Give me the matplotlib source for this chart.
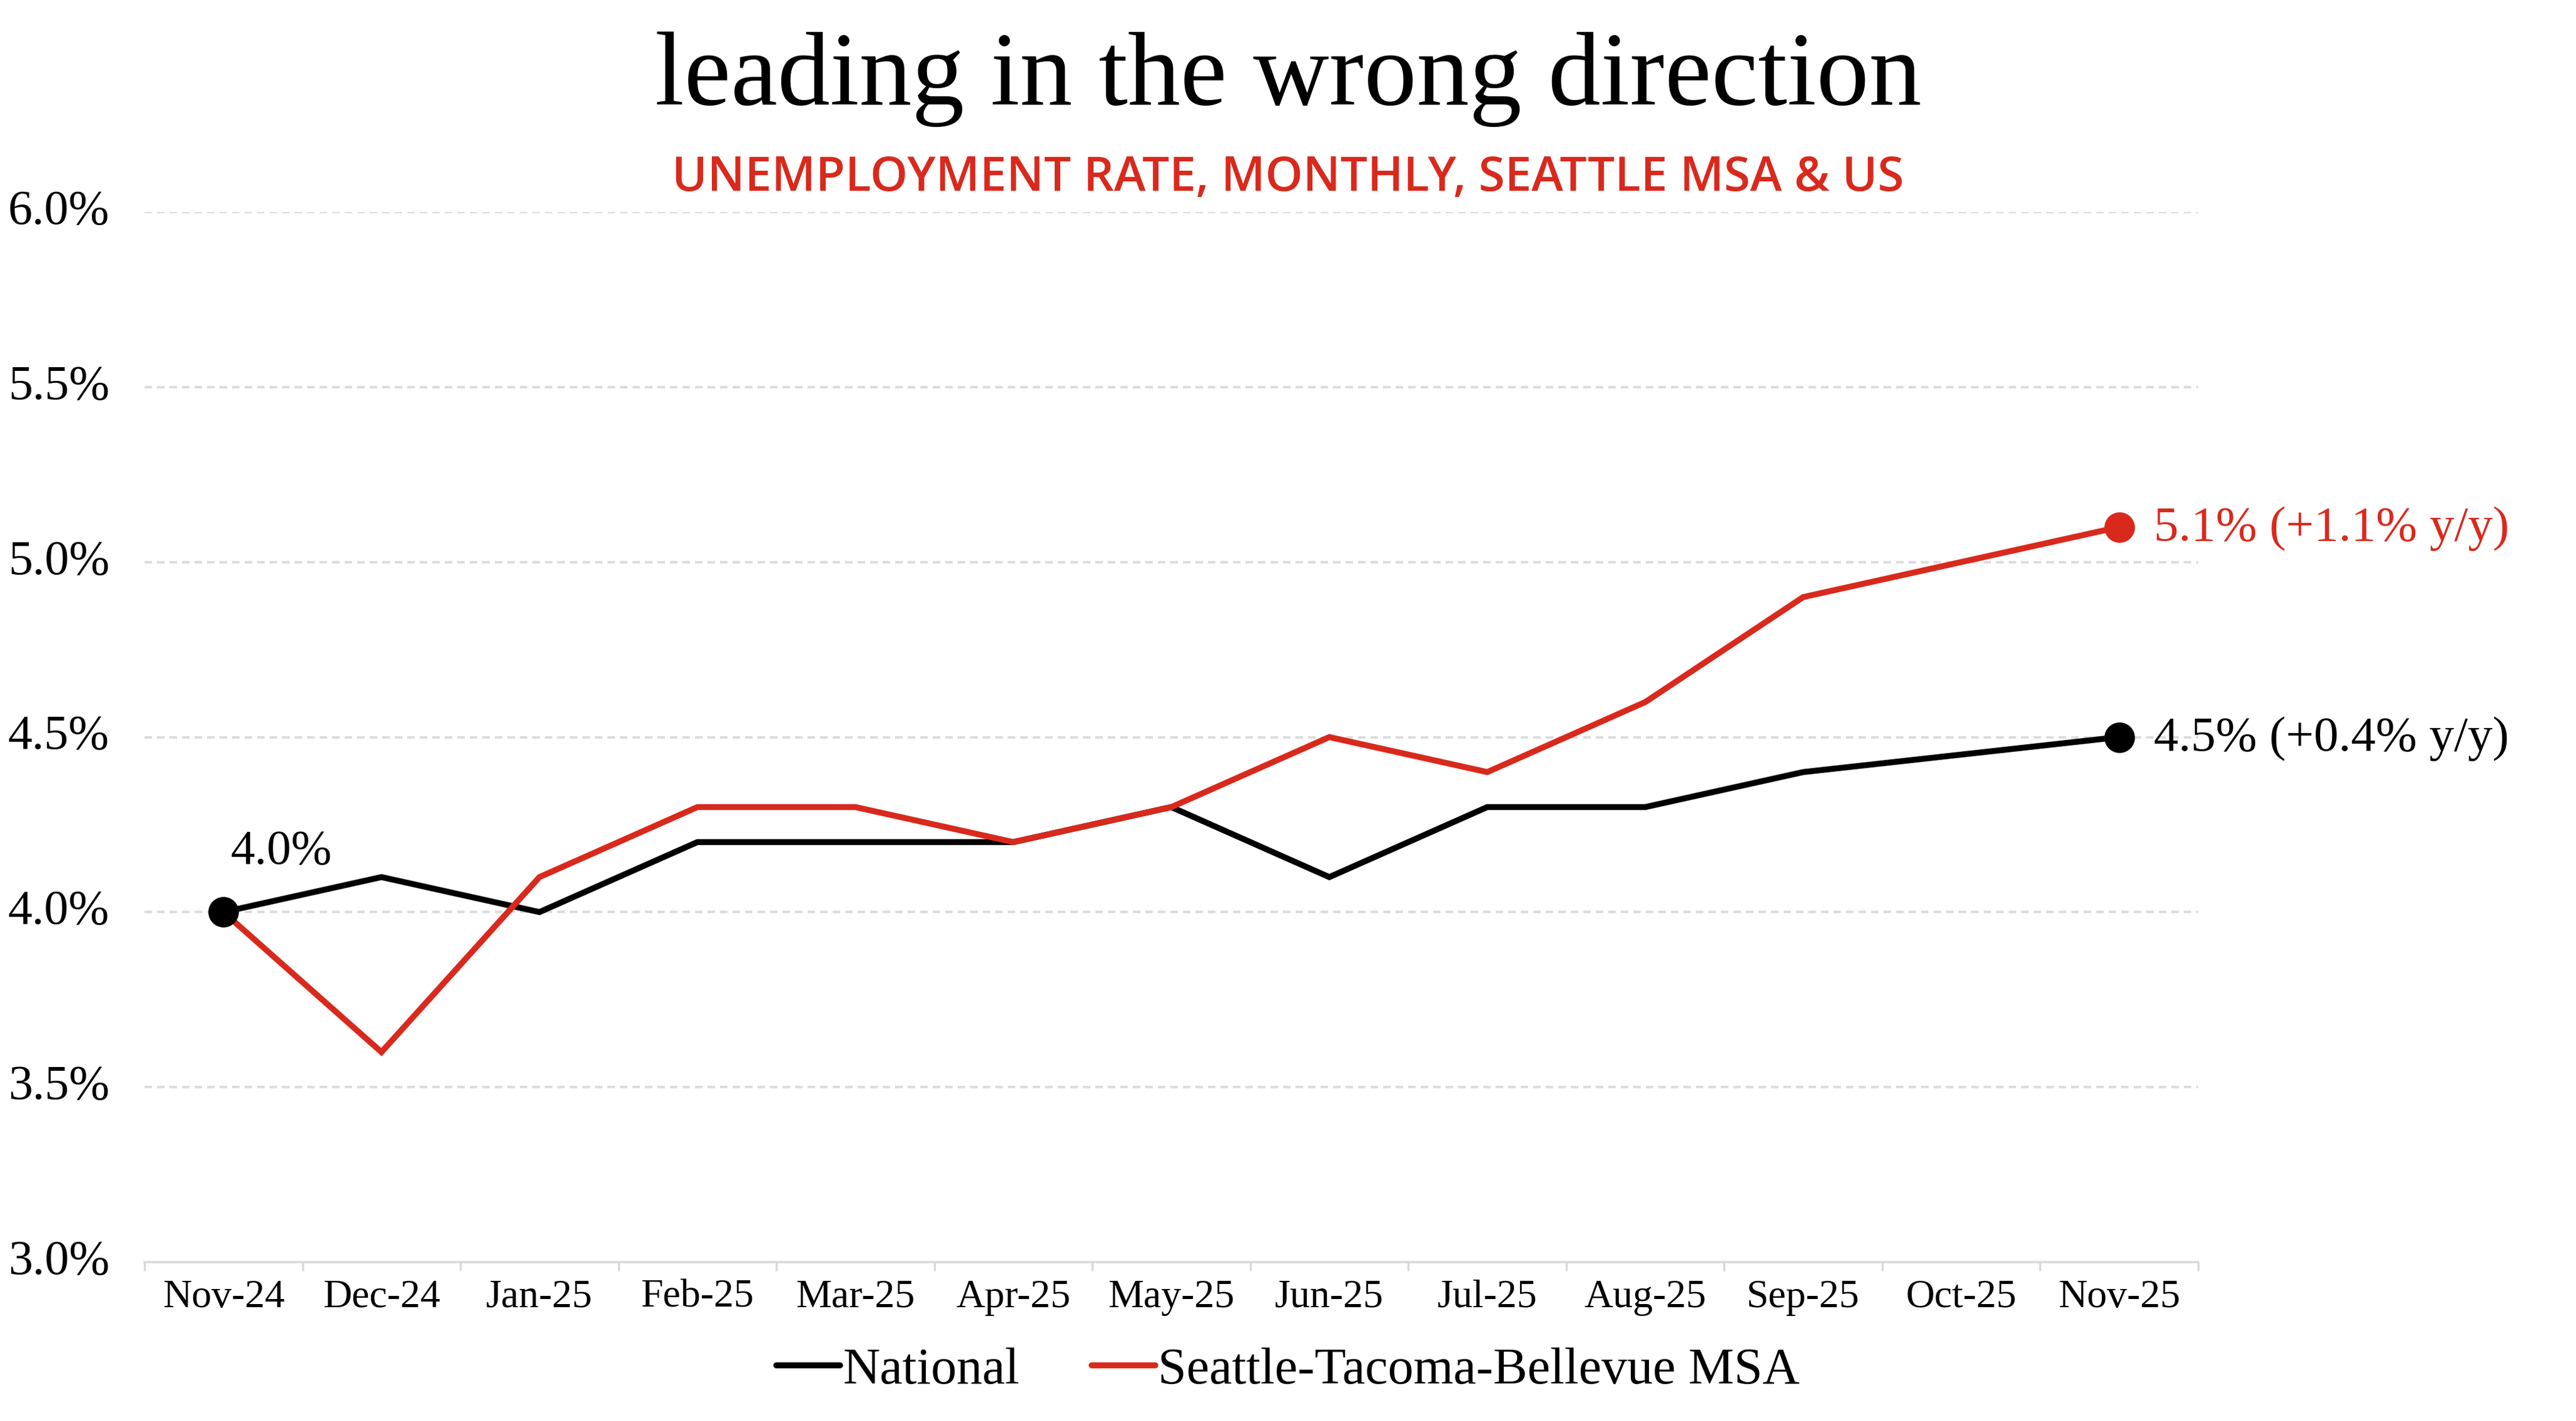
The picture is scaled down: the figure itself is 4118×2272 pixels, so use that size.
import numpy as np
import matplotlib.pyplot as plt
from matplotlib.lines import Line2D
from matplotlib.transforms import offset_copy

# data (Oct-25 not published -> None)
months = ["Nov-24", "Dec-24", "Jan-25", "Feb-25", "Mar-25", "Apr-25", "May-25",
          "Jun-25", "Jul-25", "Aug-25", "Sep-25", "Oct-25", "Nov-25"]
national = [4.0, 4.1, 4.0, 4.2, 4.2, 4.2, 4.3, 4.1, 4.3, 4.3, 4.4, None, 4.5]
seattle = [4.0, 3.6, 4.1, 4.3, 4.3, 4.2, 4.3, 4.5, 4.4, 4.6, 4.9, None, 5.1]
yticks = [3.0, 3.5, 4.0, 4.5, 5.0, 5.5, 6.0]
start_label = "4.0%"
national_end = "4.5% (+0.4% y/y)"
seattle_end = "5.1% (+1.1% y/y)"

RED = "#D9291C"
BLACK = "#000000"
SERIF = "Liberation Serif"
SANS = "Open Sans"

W, H, DPI = 4118, 2272, 200
fig = plt.figure(figsize=(W / DPI, H / DPI), dpi=DPI)
ax = fig.add_axes([231 / W, 1 - 2018 / H, (3514 - 231) / W, (2018 - 339) / H])


def series(vals):
    xs = [i + 0.5 for i, v in enumerate(vals) if v is not None]
    ys = [v for v in vals if v is not None]
    return np.array(xs), np.array(ys)


lw = 9.5 * 72 / DPI
xn, yn = series(national)
xs, ys = series(seattle)
ax.plot(xn, yn, color=BLACK, lw=lw, solid_joinstyle="miter", zorder=3)
ax.plot(xs, ys, color=RED, lw=lw, solid_joinstyle="miter", zorder=4)

ms = 46 * 72 / DPI
ax.plot(xn[0], yn[0], "o", color=BLACK, ms=ms, zorder=6)
ax.plot(xn[-1], yn[-1], "o", color=BLACK, ms=ms, zorder=6)
ax.plot(xs[-1], ys[-1], "o", color=RED, ms=ms, zorder=6)

ax.annotate(start_label, (xn[0], yn[0]), xytext=(4, 28), textcoords="offset points",
            ha="left", va="baseline", fontsize=28, family=SERIF, color=BLACK)
ax.annotate(seattle_end, (xs[-1], ys[-1]), xytext=(20, -1), textcoords="offset points",
            ha="left", va="center", fontsize=28.5, family=SERIF, color=RED)
ax.annotate(national_end, (xn[-1], yn[-1]), xytext=(20, -1), textcoords="offset points",
            ha="left", va="center", fontsize=28.5, family=SERIF, color=BLACK)

ax.set_xlim(0, len(months))
ax.set_ylim(3.0, 6.0)

# y axis: dashed grid, labels at far left
ax.set_yticks(yticks)
ax.set_yticklabels([f"{v:.1f}%" for v in yticks], family=SERIF, fontsize=28, ha="left")
ax.tick_params(axis="y", length=0, pad=218 * 72 / DPI)
for lab in ax.get_yticklabels():
    lab.set_transform(offset_copy(lab.get_transform(), fig=fig, x=0, y=3, units="points"))
for v in yticks[1:]:
    ax.axhline(v, color="#DDDDDD", lw=4 * 72 / DPI, dashes=(3, 2), zorder=1)

# x axis: labels at category centres, tick marks at boundaries
ax.set_xticks(np.arange(len(months)) + 0.5)
ax.set_xticklabels(months, family=SERIF, fontsize=23)
ax.tick_params(axis="x", which="major", length=0, pad=10)
ax.set_xticks(np.arange(len(months) + 1), minor=True)
ax.tick_params(axis="x", which="minor", length=14 * 72 / DPI, width=1.2, color="#D9D9D9")

for s in ["top", "right", "left"]:
    ax.spines[s].set_visible(False)
ax.spines["bottom"].set_color("#D9D9D9")
ax.spines["bottom"].set_linewidth(3.5 * 72 / DPI)

fig.text(0.5, 1 - 167 / H, "leading in the wrong direction", ha="center", va="baseline",
         fontsize=60.5, family=SERIF, color=BLACK)
fig.text(0.5, 1 - 305 / H, "UNEMPLOYMENT RATE, MONTHLY, SEATTLE MSA & US", ha="center",
         va="baseline", fontsize=27.5, family=SANS, weight="semibold", color=RED)

handles = [Line2D([], [], color=BLACK, lw=lw, solid_capstyle="round"),
           Line2D([], [], color=RED, lw=lw, solid_capstyle="round")]
fig.legend(handles, ["National", "Seattle-Tacoma-Bellevue MSA"], loc="center",
           bbox_to_anchor=(0.5, 1 - 2192 / H), ncol=2, frameon=False,
           prop={"family": SERIF, "size": 29.5}, handlelength=1.25, handletextpad=0.05,
           columnspacing=1.4)

fig.savefig("out.png", dpi=DPI, facecolor="white")
